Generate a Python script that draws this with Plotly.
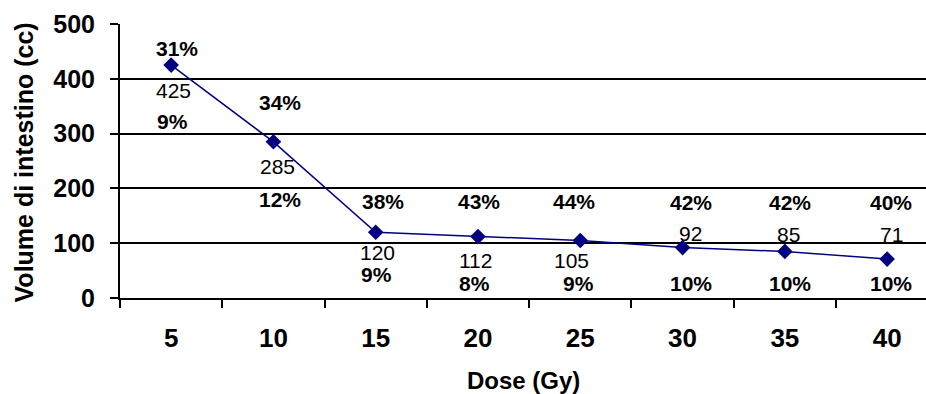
import plotly.graph_objects as go

# Dose levels (Gy) and irradiated bowel volume (cc)
doses = ["5", "10", "15", "20", "25", "30", "35", "40"]
volumes = [425, 285, 120, 112, 105, 92, 85, 71]
pct_upper = ["31%", "34%", "38%", "43%", "44%", "42%", "42%", "40%"]
pct_lower = ["9%", "12%", "9%", "8%", "9%", "10%", "10%", "10%"]

# Label placement (data-space heights and pixel nudges)
upper_y = [455, 357, 176, 176, 176, 174, 174, 174]
lower_y = [323, 179, 42, 27, 27, 27, 27, 27]
value_shift = [-25, -25, -20, -24, -20, 14, 17, 25]
upper_dx = [6, 7, 7, 1, -6, 8, 5, 4]
value_dx = [2, 4, 2, -2, -9, 8, 4, 4]
lower_dx = [1, 7, 1, -3, -2, 8, 5, 4]

NAVY = "#000080"
FONT = "Liberation Sans, Arial, sans-serif"

fig = go.Figure(
    go.Scatter(
        x=doses,
        y=volumes,
        mode="lines+markers",
        line=dict(color=NAVY, width=1.5),
        marker=dict(symbol="diamond", size=12, color=NAVY),
        hoverinfo="x+y",
    )
)

ann = []
for i, d in enumerate(doses):
    # on a category axis, annotations are positioned by category index
    ann.append(dict(x=i, y=upper_y[i], xref="x", yref="y", text=f"<b>{pct_upper[i]}</b>",
                    showarrow=False, xshift=upper_dx[i],
                    font=dict(family=FONT, size=21, color="black")))
    ann.append(dict(x=i, y=volumes[i], xref="x", yref="y", text=str(volumes[i]),
                    showarrow=False, yshift=value_shift[i], xshift=value_dx[i],
                    font=dict(family=FONT, size=21, color="black")))
    ann.append(dict(x=i, y=lower_y[i], xref="x", yref="y", text=f"<b>{pct_lower[i]}</b>",
                    showarrow=False, xshift=lower_dx[i],
                    font=dict(family=FONT, size=21, color="black")))

# Axis titles
ann.append(dict(x=0.5, y=-0.302, xref="paper", yref="paper", text="<b>Dose (Gy)</b>",
                showarrow=False, xanchor="center", yanchor="middle",
                font=dict(family=FONT, size=24, color="black")))
ann.append(dict(x=-0.119, y=0.495, xref="paper", yref="paper",
                text="<b>Volume di intestino (cc)</b>", textangle=-90,
                showarrow=False, xanchor="center", yanchor="middle",
                font=dict(family=FONT, size=25, color="black")))

fig.update_layout(
    width=926,
    height=394,
    margin=dict(l=120, r=0, t=24, b=96),
    paper_bgcolor="white",
    plot_bgcolor="white",
    showlegend=False,
    annotations=ann,
    font=dict(family=FONT, color="black"),
)

fig.update_xaxes(
    type="category",
    range=[-0.5, 7.38],
    tickson="boundaries",
    ticks="outside",
    ticklen=8,
    tickwidth=1.5,
    tickcolor="black",
    ticklabelstandoff=16,
    tickfont=dict(family=FONT, size=26, color="black", weight="bold"),
    showgrid=False,
    showline=True,
    linecolor="black",
    linewidth=2,
    zeroline=False,
)

fig.update_yaxes(
    range=[0, 500],
    tickvals=[0, 100, 200, 300, 400, 500],
    ticks="outside",
    ticklen=8,
    tickwidth=1.8,
    tickcolor="black",
    ticklabelstandoff=10,
    tickfont=dict(family=FONT, size=25, color="black", weight="bold"),
    showgrid=True,
    gridcolor="black",
    gridwidth=1.8,
    showline=True,
    linecolor="black",
    linewidth=2,
    zeroline=False,
)

fig.write_html("out.html")
